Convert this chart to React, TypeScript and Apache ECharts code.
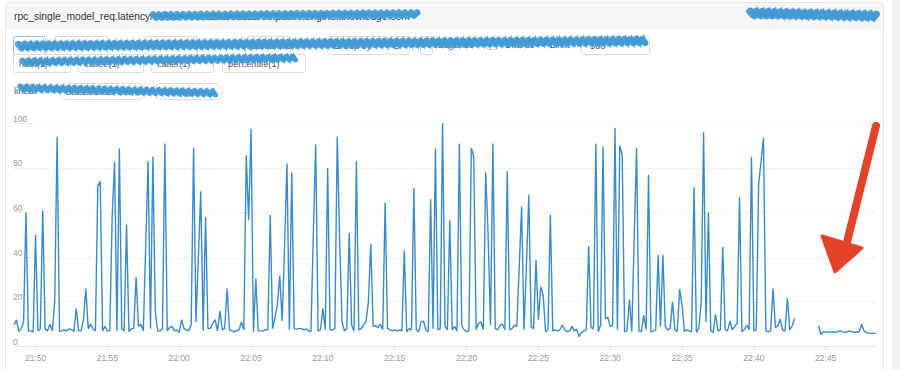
import React, { useEffect, useRef } from "react";
import * as echarts from "echarts";

// ---- data (10 s samples, starting 21:48:30) ----
const startClock = [21, 48, 30];
const stepSeconds = 10;
const yTicks = { min: 0, max: 100, step: 20 };
const labelEveryMinutes = 5;

const latencyA = [
  9.6, 12, 6.8, 8, 11, 60, 7, 7, 6.5, 50, 7, 8, 61, 8, 7, 10, 7, 20, 94, 6.8,
  7, 7.5, 7, 8, 7.5, 6.8, 17, 7, 7, 12, 26, 8, 10, 8, 7, 72, 74, 7, 9, 7,
  7, 58, 82.7, 7, 88.7, 8, 7, 54.6, 6.6, 8, 8, 31, 9, 10, 7, 45, 83, 8, 85, 15.6,
];
const latencyB = [
  7, 7, 8, 91, 7, 8.5, 9, 7, 7.5, 6.3, 12, 8, 7.5, 7, 9.6, 89, 11, 40, 69.6, 7,
  58, 8, 8, 10.4, 12, 7, 16, 7.5, 8, 26, 7.5, 7, 6.6, 7, 7.5, 11, 7.5, 85.7, 56.6, 97.6,
  6.6, 30.5, 7, 7, 7, 7.5, 7.5, 59, 8, 13, 19, 31.7, 11.4, 45, 82, 7.5, 78, 8, 7.8, 8,
];
const latencyC = [
  8, 7.5, 7.8, 7, 6.6, 50, 90.5, 7, 7.5, 17, 7.5, 80, 7.5, 7.5, 8, 94, 48, 11, 7, 8,
  51, 9.6, 7, 83, 7.5, 8, 9.6, 11, 20, 46, 9, 9.3, 8.5, 10, 7.5, 64.5, 8, 7.5, 7, 7.5,
  7, 7.5, 7, 43, 6.6, 8, 7.5, 71, 7.5, 6.6, 11, 11.4, 7.5, 6.6, 66, 8, 88.7, 7.5, 8, 100,
];
const latencyD = [
  9, 7.5, 56.6, 7.5, 9, 7, 91, 9.3, 7.5, 6.6, 7, 89, 85, 7.5, 10.4, 11, 7.5, 78, 50, 9.6,
  91, 8, 7.5, 9.6, 10, 7.5, 78.5, 7.5, 8, 9.6, 9, 35.7, 62.6, 7.5, 35.7, 68, 9, 7.8, 38.7, 12,
  26.8, 23, 6.6, 7.5, 59, 7, 7.5, 7, 7.5, 9.6, 7.5, 6.6, 7, 9, 7, 7.8, 4.4, 6.3, 7, 7.5,
];
const latencyE = [
  45, 8.5, 8, 91, 6.6, 9.6, 89.5, 12.6, 13, 9, 9.3, 98, 7.5, 90, 86, 6.6, 7, 21, 6.6, 48,
  89, 7, 6.6, 14, 7.5, 77, 6.6, 7, 7.5, 41, 9, 41, 9, 7.5, 8, 20, 7.5, 6.6, 25.7, 18.6,
  6.6, 7.5, 7, 6.6, 71.5, 6.3, 8, 20, 96, 11, 60, 7, 6.3, 14.4, 7, 7.5, 44.7, 7.5, 7, 11.4,
];
const latencyF = [
  7.5, 9, 10.4, 67, 6.6, 7.5, 9.6, 7.5, 85, 7, 7.5, 73, 83, 93.5, 7, 6.6, 7, 26, 8.4, 9.3,
  12.3, 7.4, 7, 21.6, 7.4, 9.3, 12.6,
  null, null, null, null, null, null, null, null, null,
  9.3, 5.4, 6.6, 6.3, 6.6, 6.3, 6.6, 6.3, 6.6, 7, 6.6, 6.3, 6.6, 7, 6.6, 6.3, 6.6, 6.6, 10, 7,
  6.3, 5.9, 5.9, 5.9, 5.9,
];
const latency = [...latencyA, ...latencyB, ...latencyC, ...latencyD, ...latencyE, ...latencyF];

const titleText = "rpc_single_model_req.latency/callee=mdl.dataset.search.public.engine.knowledge.com";
const row2Labels = ["host(1)", "callee(1)", "caller(1)", "percentile(1)"];
const row1Labels = ["host", "callee", "caller", "percentile", "Group by"];

const FONT = '"Liberation Sans", Arial, Helvetica, sans-serif';

function pad(n: number) {
  return n < 10 ? "0" + n : "" + n;
}

function scribble(x1: number, x2: number, y1: number, y2: number, width: number, amp: number) {
  const pts: number[][] = [];
  let k = 0;
  for (let x = x1; x <= x2; x += 3) {
    const t = (x - x1) / (x2 - x1);
    const y = y1 + (y2 - y1) * t + (k % 2 === 0 ? -amp : amp);
    pts.push([x, y]);
    k++;
  }
  return [
    {
      type: "polyline",
      z: 50,
      shape: { points: pts },
      style: { stroke: "#4aa0d9", lineWidth: width, lineCap: "round", lineJoin: "round", fill: null, opacity: 0.95 },
      silent: true,
    },
    {
      type: "polyline",
      z: 50,
      shape: { points: pts.map((p) => [p[0] + 1.5, p[1] + (p[0] % 2 ? 1 : -1)]) },
      style: { stroke: "#3d95d2", lineWidth: width * 0.6, lineCap: "round", fill: null, opacity: 0.7 },
      silent: true,
    },
  ];
}

function txt(x: number, y: number, text: string, size = 9.3, fill = "#555") {
  return {
    type: "text",
    z: 11,
    x,
    y,
    style: { text, fill, font: `${size}px ${FONT}`, textVerticalAlign: "middle", verticalAlign: "middle" },
    silent: true,
  };
}

function button(x: number, y: number, w: number, h: number, label: string, opts: any = {}) {
  return [
    {
      type: "rect",
      z: 10,
      shape: { x: x + 0.5, y: y + 0.5, width: w, height: h, r: opts.r ?? 2 },
      style: { fill: "#fff", stroke: opts.stroke ?? "#dcdcdc", lineWidth: 1 },
      silent: true,
    },
    txt(x + (opts.tx ?? 6), y + h / 2 + 1, label),
  ];
}

export default function App() {
  const ref = useRef<HTMLDivElement>(null);

  useEffect(() => {
    document.body.style.margin = "0";
    if (!ref.current) return;
    const chart = echarts.init(ref.current, null, { renderer: "svg" });

    const startSec = startClock[0] * 3600 + startClock[1] * 60 + startClock[2];
    const timeLabels = latency.map((_, i) => {
      const s = startSec + i * stepSeconds;
      return pad(Math.floor(s / 3600) % 24) + ":" + pad(Math.floor(s / 60) % 60) + ":" + pad(s % 60);
    });
    const isMajor = (_idx: number, value: string) => {
      const parts = value.split(":");
      return parts[2] === "00" && Number(parts[1]) % labelEveryMinutes === 0;
    };

    const graphic: any[] = [
      { type: "rect", shape: { x: 892, y: 0, width: 8, height: 369 }, style: { fill: "#f0f2f5" }, silent: true },
      {
        type: "rect",
        shape: { x: 5.5, y: 2.5, width: 878, height: 390, r: 3 },
        style: { fill: null, stroke: "#e6e6e6", lineWidth: 1 },
        silent: true,
      },
      { type: "rect", shape: { x: 6, y: 3, width: 877, height: 25 }, style: { fill: "#f7f7f7" }, silent: true },
      { type: "line", shape: { x1: 6, y1: 28.5, x2: 883, y2: 28.5 }, style: { stroke: "#ededed" }, silent: true },
      txt(14, 16, titleText, 10.25, "#333"),
      txt(752, 16, "$ 2024-01-01 22:48", 9.3, "#888"),
      // row 1
      ...button(13, 36, 32, 18, row1Labels[0], { stroke: "#8fc0ee" }),
      ...button(54, 36, 53, 18, row1Labels[1]),
      ...button(144, 36, 53, 18, row1Labels[2]),
      ...button(245, 36, 45, 18, row1Labels[3]),
      ...button(327, 36, 60, 18, row1Labels[4]),
      ...button(387, 36, 22, 18, "⊙"),
      ...button(420, 36, 12, 18, ""),
      txt(438, 45, "Legends"),
      {
        type: "rect",
        shape: { x: 486.5, y: 38.5, width: 11, height: 11, r: 2 },
        style: { fill: "#fff", stroke: "#cfcfcf" },
        silent: true,
      },
      txt(505, 45, "Shards"),
      txt(550, 45, "Limit"),
      ...button(581, 36, 68, 18, "500", { tx: 9 }),
      // row 2
      ...button(13, 54, 57, 18, row2Labels[0]),
      ...button(78, 54, 65, 18, row2Labels[1]),
      ...button(151, 54, 62, 18, row2Labels[2]),
      ...button(222, 54, 83, 18, row2Labels[3]),
      // row 3
      txt(14, 91, "linear"),
      ...button(58, 83, 87, 16, "datasource: CNHT", { r: 8, tx: 8 }),
      ...button(153, 83, 69, 16, "ratio(1)%", { r: 8, tx: 8 }),
      // redaction scribbles
      ...scribble(153, 418, 16, 14, 6.5, 1.6),
      ...scribble(750, 878, 13, 16, 7.5, 1.6),
      ...scribble(18, 647, 46, 41, 6.5, 1.8),
      ...scribble(22, 297, 62, 58, 5.5, 1.6),
      ...scribble(20, 217, 88, 93, 5.5, 1.6),
      // red arrow
      {
        type: "line",
        z: 60,
        shape: { x1: 876, y1: 126, x2: 847, y2: 242 },
        style: { stroke: "#e4432b", lineWidth: 8, lineCap: "round" },
        silent: true,
      },
      {
        type: "polygon",
        z: 60,
        shape: { points: [[822, 236], [862, 248], [835, 272]] },
        style: { fill: "#e4432b", stroke: "#e4432b", lineWidth: 3, lineJoin: "round" },
        silent: true,
      },
    ];

    chart.setOption({
      animation: false,
      backgroundColor: "#fff",
      textStyle: { fontFamily: FONT },
      grid: { left: 14, right: 24, top: 123.3, bottom: 22.5, containLabel: false },
      xAxis: {
        type: "category",
        data: timeLabels,
        boundaryGap: false,
        axisLine: { lineStyle: { color: "#e2e2e2" } },
        axisTick: { show: true, length: 4, interval: isMajor, lineStyle: { color: "#e2e2e2" } },
        splitLine: { show: false },
        axisLabel: {
          color: "#999",
          fontSize: 8.5,
          margin: 7,
          interval: isMajor,
          formatter: (v: string) => v.slice(0, 5),
        },
      },
      yAxis: {
        type: "value",
        min: yTicks.min,
        max: yTicks.max,
        interval: yTicks.step,
        axisLine: { show: false },
        axisTick: { show: false },
        splitLine: { lineStyle: { color: "#efefef" } },
        axisLabel: {
          inside: true,
          margin: -1,
          verticalAlign: "bottom",
          color: "#999",
          fontSize: 8.5,
        },
      },
      series: [
        {
          type: "line",
          data: latency,
          symbol: "none",
          showSymbol: false,
          connectNulls: false,
          lineStyle: { color: "#3a8bcb", width: 1.4 },
          z: 5,
        },
      ],
      graphic,
    });

    return () => chart.dispose();
  }, []);

  return <div ref={ref} style={{ width: 900, height: 369 }} />;
}
